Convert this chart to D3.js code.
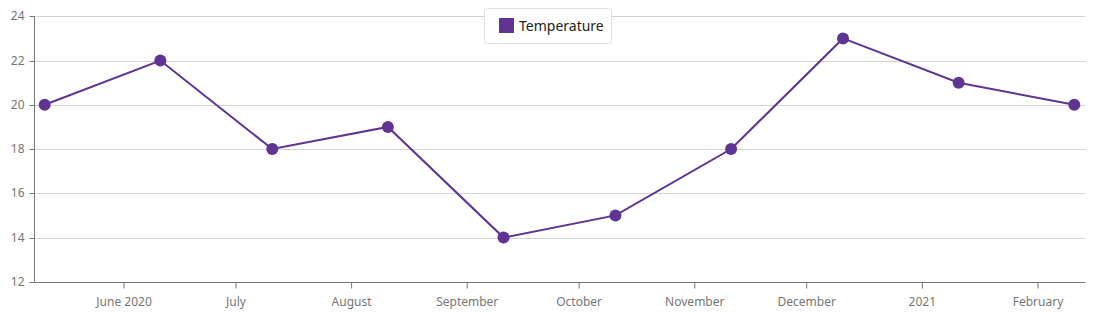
<!DOCTYPE html>
<html>
<head>
<meta charset="utf-8">
<script src="https://cdn.jsdelivr.net/npm/d3@7"></script>
<style>
  html, body { margin: 0; padding: 0; background: #fff; }
  svg { display: block; font-family: "Segoe UI", "Noto Sans", "Open Sans", sans-serif; }
</style>
</head>
<body>
<svg id="chart" width="1099" height="314"></svg>
<script>
// Data
const dates = ["2020-05-11", "2020-06-11", "2020-07-11", "2020-08-11", "2020-09-11",
               "2020-10-11", "2020-11-11", "2020-12-11", "2021-01-11", "2021-02-11"];
const temperature = [20, 22, 18, 19, 14, 15, 18, 23, 21, 20];
const yTicks = [12, 14, 16, 18, 20, 22, 24];
const xTickDates = ["2020-06-01", "2020-07-01", "2020-08-01", "2020-09-01", "2020-10-01",
                    "2020-11-01", "2020-12-01", "2021-01-01", "2021-02-01"];
const xTickLabels = ["June 2020", "July", "August", "September", "October",
                     "November", "December", "2021", "February"];
const seriesName = "Temperature";
const color = "#5f3492";

(function () {
const parse = d3.utcParse("%Y-%m-%d");
const data = dates.map((d, i) => ({ date: parse(d), value: temperature[i] }));

const svg = d3.select("#chart");
const mLeft = 34, mRight = 1085, mTop = 16.3, mBottom = 281.8, pad = 10.7;

const x = d3.scaleUtc()
  .domain(d3.extent(data, d => d.date))
  .range([mLeft + pad, mRight - pad]);
const y = d3.scaleLinear().domain([12, 24]).range([mBottom, mTop]);

// grid
svg.append("g").selectAll("line").data(yTicks.filter(t => t !== 12)).join("line")
  .attr("x1", mLeft).attr("x2", mRight)
  .attr("y1", d => Math.round(y(d)) + 0.5).attr("y2", d => Math.round(y(d)) + 0.5)
  .attr("stroke", "#d3d3d3").attr("stroke-width", 1);

// y axis
const yAxis = d3.axisLeft(y).tickValues(yTicks).tickSize(5).tickPadding(5).tickFormat(d3.format("d"));
const gy = svg.append("g").attr("transform", `translate(${mLeft + 0.5},0)`).call(yAxis);
gy.select(".domain").attr("stroke", "#767676").attr("d", `M0,${mTop}V${mBottom}`);
gy.selectAll(".tick line").attr("stroke", "#767676")
  .attr("transform", function () { return "translate(0,0)"; });
gy.selectAll(".tick").attr("transform", d => `translate(0,${Math.round(y(d)) + 0.5})`);
gy.selectAll(".tick text").attr("fill", "#767676").style("font-size", "12px")
  .style("font-family", "'Segoe UI','Noto Sans',sans-serif");

// x axis
const xAxis = d3.axisBottom(x).tickValues(xTickDates.map(parse))
  .tickSize(6).tickPadding(9)
  .tickFormat((d, i) => xTickLabels[i]);
const gx = svg.append("g").attr("transform", `translate(0.5,${Math.round(mBottom) + 0.5})`).call(xAxis);
gx.select(".domain").attr("stroke", "#767676").attr("d", `M${mLeft},0H${mRight}`);
gx.selectAll(".tick line").attr("stroke", "#767676");
gx.selectAll(".tick text").attr("fill", "#767676").style("font-size", "12px")
  .style("font-family", "'Segoe UI','Noto Sans',sans-serif");

// line
const line = d3.line().x(d => x(d.date)).y(d => y(d.value));
svg.append("path").datum(data)
  .attr("fill", "none").attr("stroke", color).attr("stroke-width", 2)
  .attr("d", line);

svg.append("g").selectAll("circle").data(data).join("circle")
  .attr("cx", d => x(d.date)).attr("cy", d => y(d.value)).attr("r", 6)
  .attr("fill", color);

// legend
const lg = svg.append("g");
lg.append("rect").attr("x", 484.5).attr("y", 8.5).attr("width", 127).attr("height", 35)
  .attr("rx", 3).attr("fill", "#fff").attr("stroke", "#e0e0e0");
lg.append("rect").attr("x", 499).attr("y", 18).attr("width", 15).attr("height", 15).attr("fill", color);
lg.append("text").attr("x", 519).attr("y", 30.5).text(seriesName)
  .attr("fill", "#232323").style("font-size", "14px");
})();
</script>
</body>
</html>
